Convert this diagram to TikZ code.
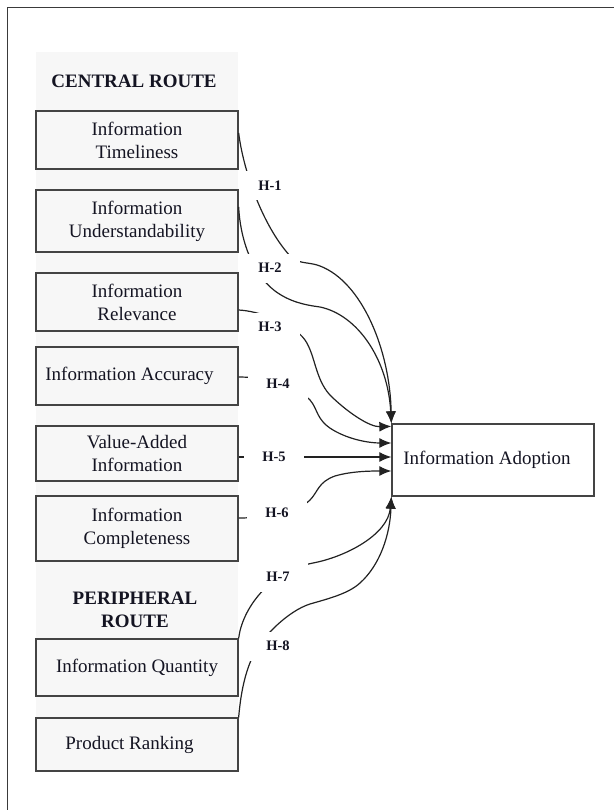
\documentclass[tikz,border=0pt]{standalone}
\usepackage{fontspec}
\setmainfont{Liberation Serif}
\usetikzlibrary{arrows.meta}
\definecolor{panelgray}{HTML}{F7F7F7}
\definecolor{boxline}{HTML}{444444}
\definecolor{connc}{HTML}{222222}
\definecolor{framec}{HTML}{3A3A3A}
\definecolor{txt}{HTML}{141422}
\begin{document}
\begin{tikzpicture}[x=1pt,y=-1pt,
  box/.style={draw=boxline, line width=1.3pt, fill=panelgray, minimum width=202pt, inner sep=0pt, align=center, text=txt, font=\fontsize{19}{23}\selectfont},
  hlabel/.style={fill=white, minimum width=60pt, minimum height=29pt, inner sep=0pt, text=txt, font=\bfseries\fontsize{14.5}{17}\selectfont},
  head/.style={align=center, text=txt, font=\bfseries\fontsize{19}{23}\selectfont},
  connline/.style={draw=connc, line width=1.2pt},
  arr/.style={connline, -{Latex[length=12pt,width=10pt]}}
]
\useasboundingbox (0,0) rectangle (613,810);
\draw[draw=framec, line width=1.2pt] (7.5,830) -- (7.5,7.5) -- (630,7.5);
\fill[panelgray] (36,52) rectangle (238,771);

\node[head] (hc) at (134,81) {CENTRAL ROUTE};
\node[head] (hp) at (135,610) {PERIPHERAL\\ROUTE};

\node[box, minimum height=58pt] (t1) at (137,140) {Information\\Timeliness};
\node[box, minimum height=62pt] (t2) at (137,221) {Information\\Understandability};
\node[box, minimum height=58pt] (t3) at (137,302) {Information\\Relevance};
\node[box, minimum height=58pt] (t4) at (137,376) {Information Accuracy\rule{15pt}{0pt}};
\node[box, minimum height=55pt] (t5) at (137,453.5) {Value-Added\\Information};
\node[box, minimum height=65pt] (t6) at (137,528.5) {Information\\Completeness};
\node[box, minimum height=57pt] (t7) at (137,667.5) {Information Quantity};
\node[box, minimum height=53pt] (t8) at (137,744.5) {Product Ranking\rule{15pt}{0pt}};
\node[box, fill=white, minimum height=72pt] (t9) at (493,460) {Information Adoption\rule{12pt}{0pt}};

\draw[arr] ([yshift=7pt]t1.east) .. controls (244,175) and (265,230) .. (292,258) .. controls (300,264) and (310,262) .. (320,266) .. controls (362,282) and (390,350) .. (t9.north west);
\draw[arr] ([yshift=14pt]t2.east) .. controls (240,235) and (250,272) .. (275,291) .. controls (290,302) and (305,305) .. (320,307) .. controls (358,315) and (388,360) .. (t9.north west);
\draw[arr] ([yshift=-8pt]t3.east) .. controls (258,311) and (292,322) .. (305,340) .. controls (316,356) and (315,382) .. (333,398) .. controls (350,414) and (370,427) .. ([yshift=-3pt]t9.north west);
\draw[arr] ([yshift=-1pt]t4.east) .. controls (272,377) and (300,390) .. (310,400) .. controls (318,409) and (316,420) .. (333,430) .. controls (350,440) and (370,443) .. ([yshift=17pt]t9.west);
\draw[arr] ([yshift=-3.5pt]t5.east) -- ([yshift=3pt]t9.west);
\draw[arr] ([yshift=10.5pt]t6.east) .. controls (268,518) and (298,512) .. (310,500) .. controls (318,492) and (318,482) .. (335,476) .. controls (352,471) and (372,471) .. ([yshift=-11pt]t9.west);
\draw[arr] (t7.north east) .. controls (242,610) and (268,572) .. (313,563) .. controls (345,557) and (388,535) .. (t9.south west);
\draw[arr] (t8.north east) .. controls (241,690) and (246,668) .. (256,650) .. controls (264,636) and (288,611) .. (310,604) .. controls (327,599) and (348,594) .. (360,583) .. controls (380,565) and (390,535) .. (t9.south west);

\node[hlabel] (h1) at (270,186) {H-1};
\node[hlabel] (h2) at (270,268) {H-2};
\node[hlabel] (h3) at (270,327) {H-3};
\node[hlabel] (h4) at (278,384) {H-4};
\node[hlabel] (h5) at (274,457) {H-5};
\node[hlabel] (h6) at (277,513) {H-6};
\node[hlabel] (h7) at (278,577) {H-7};
\node[hlabel] (h8) at (278,646) {H-8};
\end{tikzpicture}
\end{document}
